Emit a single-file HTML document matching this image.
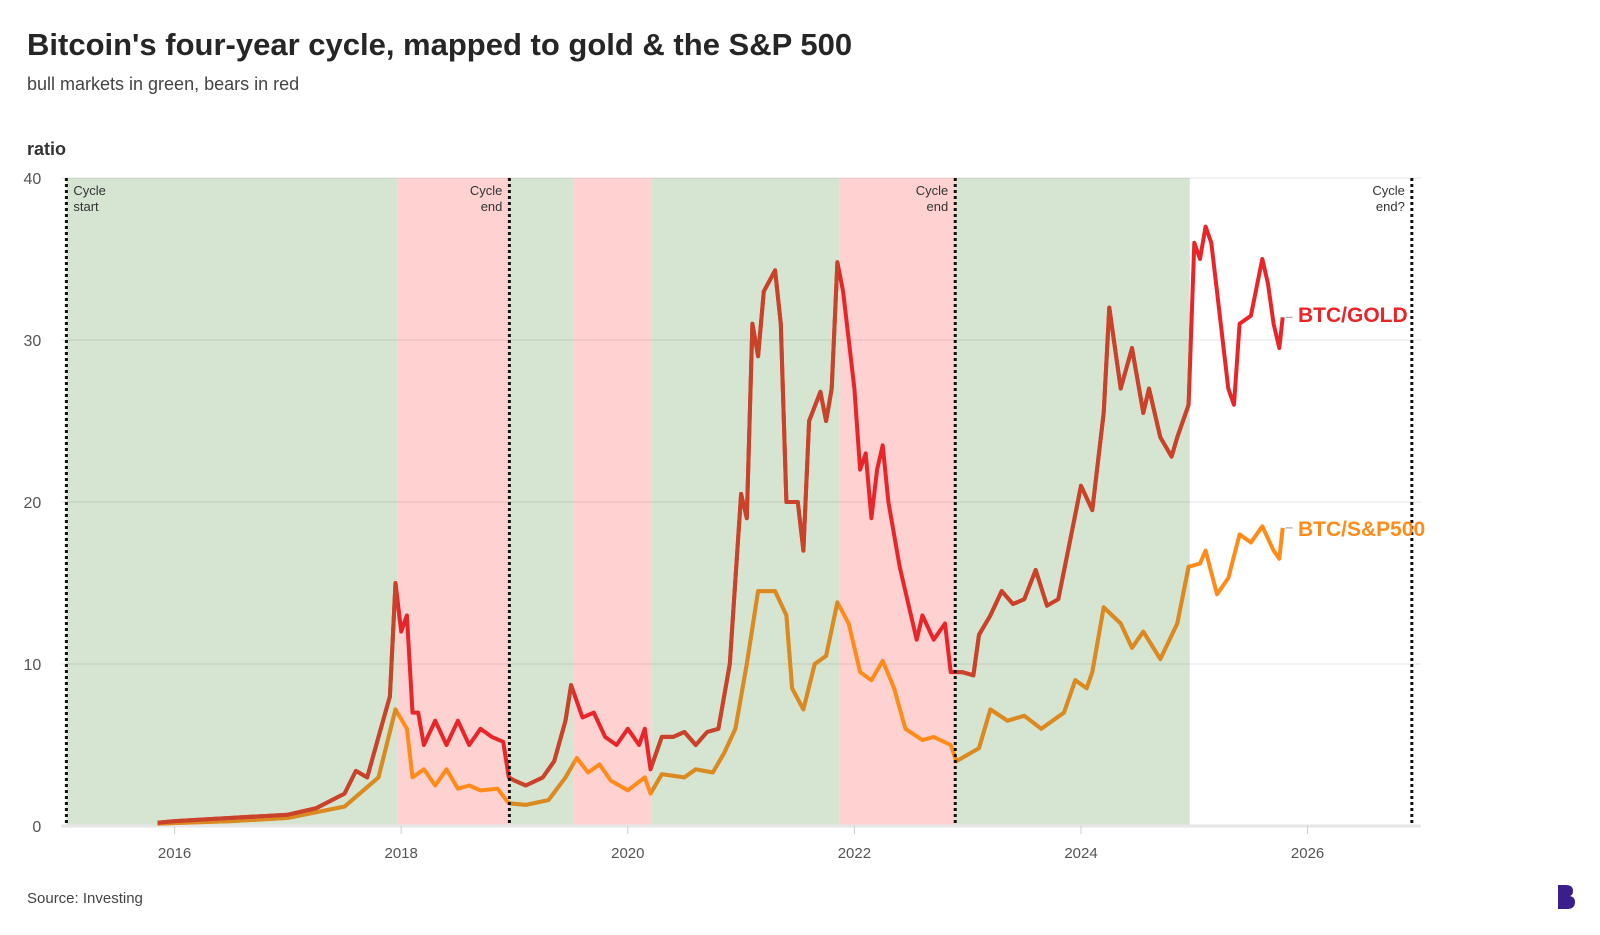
<!DOCTYPE html>
<html><head><meta charset="utf-8"><style>
body{margin:0;background:#fff;font-family:"Liberation Sans",sans-serif;}
#wrap{position:relative;width:1600px;height:935px;overflow:hidden;}
</style></head><body>
<div id="wrap">
<svg id="svg" width="1600" height="935">
<text x="27" y="55" font-size="31" font-weight="bold" fill="#262626">Bitcoin's four-year cycle, mapped to gold &amp; the S&amp;P 500</text>
<text x="27" y="90" font-size="18" fill="#444">bull markets in green, bears in red</text>
<text x="27" y="155" font-size="18" font-weight="bold" fill="#333">ratio</text>
<text x="27" y="903" font-size="15" fill="#444">Source: Investing</text>
<g id="bands"></g><g id="grid"></g><g id="lines"></g><g id="ann"></g>
<text x="1298" y="322" font-size="21" font-weight="bold" fill="#e8262a">BTC/GOLD</text>
<text x="1298" y="536" font-size="21" font-weight="bold" fill="#ff8c1a">BTC/S&amp;P500</text>
<path d="M1558 885 h8 q7 0 7 6 q0 4 -3 5 q5 1 5 6 q0 7 -8 7 h-9z" fill="#3a1f8c"/>
</svg>
</div>
<script>
const yTicks=[0,10,20,30,40];
const xTicks=[2016,2018,2020,2022,2024,2026];
const bandStarts=[2015.045,2017.97,2018.955,2019.52,2020.21,2021.865,2022.89];
const bandEnds=[2017.97,2018.955,2019.52,2020.21,2021.865,2022.89,2024.96];
const bandTypes=["bull","bear","bull","bear","bull","bear","bull"];
const cycleDates=[2015.045,2018.955,2022.89,2026.92];
const cycleLabels=[["Cycle","start"],["Cycle","end"],["Cycle","end"],["Cycle","end?"]];
const goldDates=[2015.85,2016.0,2016.5,2017.0,2017.25,2017.5,2017.6,2017.7,2017.8,2017.9,2017.95,2018.0,2018.05,2018.1,2018.15,2018.2,2018.3,2018.4,2018.5,2018.6,2018.7,2018.8,2018.9,2018.95,2019.0,2019.1,2019.25,2019.35,2019.45,2019.5,2019.6,2019.7,2019.8,2019.9,2020.0,2020.1,2020.15,2020.2,2020.3,2020.4,2020.5,2020.6,2020.7,2020.8,2020.9,2021.0,2021.05,2021.1,2021.15,2021.2,2021.3,2021.35,2021.4,2021.5,2021.55,2021.6,2021.7,2021.75,2021.8,2021.85,2021.9,2022.0,2022.05,2022.1,2022.15,2022.2,2022.25,2022.3,2022.4,2022.5,2022.55,2022.6,2022.7,2022.8,2022.85,2022.95,2023.05,2023.1,2023.2,2023.3,2023.4,2023.5,2023.6,2023.7,2023.8,2023.9,2024.0,2024.1,2024.2,2024.25,2024.35,2024.45,2024.55,2024.6,2024.7,2024.8,2024.85,2024.95,2025.0,2025.05,2025.1,2025.15,2025.2,2025.3,2025.35,2025.4,2025.5,2025.6,2025.65,2025.7,2025.75,2025.78];
const goldValues=[0.2,0.3,0.5,0.7,1.1,2.0,3.4,3.0,5.5,8,15,12,13,7,7,5,6.5,5,6.5,5,6,5.5,5.2,3,2.8,2.5,3,4,6.5,8.7,6.7,7,5.5,5,6,5,6,3.5,5.5,5.5,5.8,5,5.8,6,10,20.5,19,31,29,33,34.3,31,20,20,17,25,26.8,25,27,34.8,33,27,22,23,19,22,23.5,20,16,13,11.5,13,11.5,12.5,9.5,9.5,9.3,11.8,13,14.5,13.7,14,15.8,13.6,14,17.5,21,19.5,25.5,32,27,29.5,25.5,27,24,22.8,24,26,36,35,37,36,33,27,26,31,31.5,35,33.5,31,29.5,31.4];
const spDates=[2015.85,2016.5,2017.0,2017.5,2017.8,2017.95,2018.05,2018.1,2018.2,2018.3,2018.4,2018.5,2018.6,2018.7,2018.85,2018.95,2019.1,2019.3,2019.45,2019.55,2019.65,2019.75,2019.85,2020.0,2020.15,2020.2,2020.3,2020.5,2020.6,2020.75,2020.85,2020.95,2021.05,2021.15,2021.3,2021.4,2021.45,2021.55,2021.65,2021.75,2021.85,2021.95,2022.05,2022.15,2022.25,2022.35,2022.45,2022.6,2022.7,2022.85,2022.9,2023.1,2023.2,2023.35,2023.5,2023.65,2023.85,2023.95,2024.05,2024.1,2024.2,2024.35,2024.45,2024.55,2024.7,2024.85,2024.95,2025.05,2025.1,2025.2,2025.3,2025.4,2025.5,2025.6,2025.7,2025.75,2025.78];
const spValues=[0.15,0.3,0.5,1.2,3,7.2,6,3,3.5,2.5,3.5,2.3,2.5,2.2,2.3,1.4,1.3,1.6,3,4.2,3.3,3.8,2.8,2.2,3,2,3.2,3,3.5,3.3,4.5,6,10,14.5,14.5,13,8.5,7.2,10,10.5,13.8,12.5,9.5,9,10.2,8.5,6,5.3,5.5,5,4,4.8,7.2,6.5,6.8,6,7,9,8.5,9.5,13.5,12.5,11,12,10.3,12.5,16,16.2,17,14.3,15.3,18,17.5,18.5,17,16.5,18.4];

const NS="http://www.w3.org/2000/svg";
const X=d=>174.6+(d-2016)*113.3;
const Y=v=>826-v*16.2;
const left=X(2015.0), right=X(2027.0);
function mk(t,a,p){const e=document.createElementNS(NS,t);for(const k in a)e.setAttribute(k,a[k]);p.appendChild(e);return e;}
const bands=document.getElementById('bands'),grid=document.getElementById('grid'),lines=document.getElementById('lines'),ann=document.getElementById('ann');
const svg=document.getElementById('svg');
const defs=mk('defs',{},svg);
const clip=mk('clipPath',{id:'bullclip'},defs);
bandStarts.forEach((s,i)=>{
  const r=mk('rect',{x:X(s),y:Y(40),width:X(bandEnds[i])-X(s),height:Y(0)-Y(40),fill:bandTypes[i]==='bull'?'#d6e5d2':'#ffd2d2'},bands);
  
  
  if(bandTypes[i]==='bull')mk('rect',{x:X(s),y:0,width:X(bandEnds[i])-X(s),height:935},clip);
});
yTicks.forEach(v=>{
  const l=mk('line',{x1:left,x2:right,y1:Y(v),y2:Y(v),stroke:v===0?'#e6e6e6':'rgba(0,0,0,0.07)','stroke-width':v===0?3:1.5},grid);
  
  
  const t=mk('text',{x:left-20,y:Y(v)+6,'text-anchor':'end','font-size':16,fill:'#555'},grid);
  t.textContent=v;
  
  
});
xTicks.forEach(d=>{
  mk('line',{x1:X(d),x2:X(d),y1:Y(0),y2:Y(0)+8,stroke:'#ccc','stroke-width':1},grid);
  const t=mk('text',{x:X(d),y:Y(0)+32,'text-anchor':'middle','font-size':15,fill:'#555'},grid);
  t.textContent=d;
  
  
});
cycleDates.forEach((d,i)=>{
  const l=mk('line',{x1:X(d),x2:X(d),y1:Y(40),y2:Y(0),stroke:'#111','stroke-width':3,'stroke-dasharray':'3 3'},ann);
  
  
  const start=i===0;
  cycleLabels[i].forEach((s,j)=>{
    const t=mk('text',{x:X(d)+(start?7:-7),y:Y(40)+17+j*16,'text-anchor':start?'start':'end','font-size':13,fill:'#333'},ann);
    t.textContent=s;
    
    
  });
});
function path(ds,vs){return ds.map((d,i)=>(i?'L':'M')+X(d).toFixed(1)+' '+Y(vs[i]).toFixed(1)).join(' ');}
function series(ds,vs,bright,dark,name){
  const a=mk('path',{d:path(ds,vs),fill:'none',stroke:bright,'stroke-width':4,'stroke-linejoin':'round'},lines);
  
  
  const b=mk('path',{d:path(ds,vs),fill:'none',stroke:dark,'stroke-width':4,'stroke-linejoin':'round','clip-path':'url(#bullclip)'},lines);
  
  
  const n=ds.length-1;
  mk('line',{x1:X(ds[n])+3,x2:X(ds[n])+10,y1:Y(vs[n]),y2:Y(vs[n]),stroke:'#999','stroke-width':1},lines);
}
series(spDates,spValues,'#ff8c1a','#d98a22','btc-sp500');
series(goldDates,goldValues,'#e8262a','#c9432b','btc-gold');
</script>
</body></html>
